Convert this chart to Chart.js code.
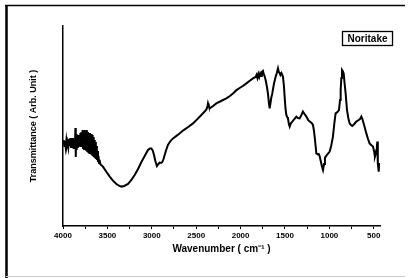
<!DOCTYPE html>
<html>
<head>
<meta charset="utf-8">
<script src="https://cdn.jsdelivr.net/npm/chart.js@4"></script>
<style>
  html, body { margin: 0; padding: 0; background: #fff; }
  canvas { display: block; }
</style>
</head>
<body>
<canvas id="c" width="410" height="278"></canvas>
<script>
// ---- data ----
const seriesLabel = 'Noritake';
const wavenumber = [
  4000,3992,3985,3978,3970,3962,3955,3948,3940,3932,3925,3918,3910,3902,3895,3888,3880,3872,3866,3860,
  3856,3852,3846,3840,3834,3828,3822,3816,3810,3804,3798,3792,3786,3780,3774,3768,3762,3756,3750,3744,
  3738,3732,3726,3720,3714,3708,3702,3696,3690,3684,3678,3672,3666,3660,3654,3648,3642,3636,3630,3624,
  3618,3612,3606,3600,3594,3588,3580,3570,3550,3510,3474,3440,3399,3370,3342,3310,3268,3230,3193,3155,
  3117,3080,3043,3020,3005,2990,2975,2960,2942,2925,2911,2895,2881,2868,2855,2838,2818,2790,2761,2700,
  2649,2590,2536,2490,2442,2400,2385,2372,2367,2358,2348,2310,2273,2220,2160,2120,2086,2050,2011,1975,
  1935,1900,1861,1830,1820,1810,1800,1790,1780,1770,1760,1748,1740,1730,1718,1705,1692,1680,1673,1665,
  1655,1643,1625,1605,1592,1579,1570,1560,1552,1540,1523,1512,1504,1495,1485,1475,1467,1456,1447,1432,
  1417,1395,1372,1355,1335,1315,1298,1280,1259,1240,1222,1200,1185,1175,1166,1155,1147,1130,1120,1110,
  1095,1085,1072,1060,1050,1042,1020,997,980,960,945,930,910,892,880,873,865,858,850,839,
  828,817,802,787,772,757,742,720,697,670,655,640,628,614,600,584,565,547,530,509,
  495,487,478,471,465,460,456,453,449,445,441,437
];
const transmittance = [
  41.5,43,40,42.5,39.5,43,40.5,42,39.5,43.5,40,44,39,43.5,39.5,44,38.5,43,40,49,
  34.5,46,38,44,39,45.5,39.5,45,40,46.5,39.5,47,40,48,39,47.5,38.5,48,39,47,
  38,48,37.5,47,37,46.5,36.5,46.5,36,46,35.5,45.5,35,44.5,34.5,43,34,42,33.5,40,
  33,37.5,32,35,31.5,33,31,30.5,29.7,27,24.7,22.8,21,20.2,19.7,20,21,23,25.5,28.5,
  32,35,38,38.8,38.8,37.8,35.5,32.5,30,31,31.7,31.5,32,33.5,35.5,38,40.5,42.5,43.8,45.8,
  47.7,49.5,51.3,53.3,55.5,57.5,58.3,60,61.3,60,58.8,60,61.3,62.5,63.8,65,66.3,67.8,69,70,
  71.3,72.5,73.8,74.5,75.5,74,76,74.5,76.2,75,77,77.5,76,75,73,70,66.3,61,58.8,61,
  64,66.3,71,74.7,76.5,78.8,77,76.5,75.5,76.5,74.7,70,64.7,59,55.5,54.5,53.8,51,49.7,51.5,
  52.2,53.5,54.7,54,53.8,55.5,57.2,56,54.7,53,52.2,51.5,50.5,48,44.7,40,36.3,35.8,36,35,
  32,30,28,31,34,34.7,36,37.2,40,44.7,51,56.3,57,58,63,68,74,78,77.5,76.3,
  71,66.3,58,54,51.3,50.5,50,51,52.2,53,53.5,54.7,53.5,51.3,49,46.3,43.5,41.3,40.5,39.7,
  37,34.7,36,38,40,42.2,37,31.3,29,27.2,29.5,31.5
];
const xMajorTicks = [4000, 3500, 3000, 2500, 2000, 1500, 1000, 500];
const xMinorTicks = [3750, 3250, 2750, 2250, 1750, 1250, 750];
const xTitle = 'Wavenumber ( cm\u207B\u00B9 )';
const yTitle = 'Transmittance ( Arb. Unit )';

const FONT = '"Liberation Sans", Arial, sans-serif';

const points = wavenumber.map((w, i) => ({ x: w, y: transmittance[i] }));

const framePlugin = {
  id: 'frame',
  beforeDraw(chart) {
    const ctx = chart.ctx;
    ctx.save();
    ctx.fillStyle = '#fff';
    ctx.fillRect(0, 0, chart.width, chart.height);
    ctx.strokeStyle = '#000';
    ctx.lineWidth = 1.5;
    ctx.beginPath(); ctx.moveTo(5, 5.5); ctx.lineTo(405, 5.5); ctx.stroke();
    ctx.lineWidth = 2.5;
    ctx.beginPath(); ctx.moveTo(6.5, 5); ctx.lineTo(6.5, 278); ctx.stroke();
    ctx.strokeStyle = '#c8c8c8';
    ctx.lineWidth = 1;
    ctx.beginPath(); ctx.moveTo(6, 276.5); ctx.lineTo(405, 276.5); ctx.stroke();
    ctx.restore();
  },
  afterDraw(chart) {
    const ctx = chart.ctx;
    const a = chart.chartArea;
    const label = chart.data.datasets[0].label;
    ctx.save();
    ctx.font = 'bold 10px ' + FONT;
    const tw = ctx.measureText(label).width;
    const bw = tw + 10, bh = 14;
    const bx = Math.round(a.right + 12 - bw) + 0.5;
    const by = a.top + 5.5;
    ctx.strokeStyle = '#000';
    ctx.lineWidth = 1.3;
    ctx.strokeRect(bx, by, bw, bh);
    ctx.fillStyle = '#000';
    ctx.textAlign = 'center';
    ctx.textBaseline = 'middle';
    ctx.fillText(label, bx + bw / 2, by + bh / 2 + 0.5);
    ctx.restore();
  }
};

new Chart(document.getElementById('c'), {
  type: 'line',
  data: {
    datasets: [{
      label: seriesLabel,
      data: points,
      borderColor: '#000',
      borderWidth: 2,
      pointRadius: 0,
      fill: false,
      tension: 0
    }]
  },
  options: {
    responsive: false,
    animation: false,
    devicePixelRatio: 1,
    layout: { padding: { top: 26, right: 30, bottom: 0, left: 0 } },
    plugins: { legend: { display: false }, tooltip: { enabled: false } },
    scales: {
      x: {
        type: 'linear',
        reverse: true,
        min: 430,
        max: 4000,
        afterFit(scale) { scale.height = 52; },
        afterBuildTicks(scale) {
          scale.ticks = xMajorTicks.concat(xMinorTicks).sort((a, b) => b - a).map(v => ({ value: v }));
        },
        ticks: {
          autoSkip: false,
          maxRotation: 0,
          padding: 2,
          color: '#000',
          font: { family: FONT, size: 8, weight: 'bold' },
          callback: (v) => xMajorTicks.includes(v) ? String(v) : ''
        },
        grid: { display: true, drawOnChartArea: false, drawTicks: true, tickLength: 3, color: '#000', lineWidth: 1 },
        border: { display: true, color: '#000', width: 1.5 },
        title: {
          display: true,
          text: xTitle,
          color: '#000',
          font: { family: FONT, size: 10, weight: 'bold' },
          padding: { top: 0, bottom: 23 }
        }
      },
      y: {
        type: 'linear',
        min: 0,
        max: 100,
        afterFit(scale) { scale.width = 63; },
        ticks: { display: false },
        grid: { display: false },
        border: { display: true, color: '#000', width: 1.5 },
        title: {
          display: true,
          text: yTitle,
          color: '#000',
          font: { family: FONT, size: 9, weight: 'bold' },
          padding: { top: 28, bottom: 0 }
        }
      }
    }
  },
  plugins: [framePlugin]
});
</script>
</body>
</html>
